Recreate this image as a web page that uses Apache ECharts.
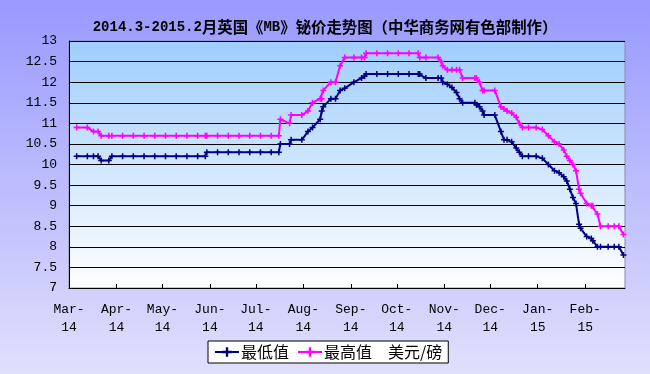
<!DOCTYPE html>
<html>
<head>
<meta charset="utf-8">
<script src="https://cdn.jsdelivr.net/npm/echarts@6/dist/echarts.min.js"></script>
<style>html,body{margin:0;padding:0;}#c{width:650px;height:374px;}</style>
</head>
<body>
<div id="c"></div>
<script>
const dates = [
  '2014-03-06','2014-03-13','2014-03-17','2014-03-20','2014-03-22','2014-03-27','2014-03-29',
  '2014-04-05','2014-04-12','2014-04-19','2014-04-26',
  '2014-05-03','2014-05-10','2014-05-17','2014-05-24','2014-05-29','2014-05-30',
  '2014-06-06','2014-06-13','2014-06-20','2014-06-27',
  '2014-07-04','2014-07-11','2014-07-16','2014-07-17','2014-07-23','2014-07-24','2014-07-31',
  '2014-08-04','2014-08-07','2014-08-12','2014-08-13','2014-08-14','2014-08-19','2014-08-22','2014-08-25','2014-08-28',
  '2014-09-03','2014-09-08','2014-09-10','2014-09-11','2014-09-18','2014-09-25',
  '2014-10-02','2014-10-09','2014-10-15','2014-10-16','2014-10-20','2014-10-28','2014-10-30','2014-10-31',
  '2014-11-03','2014-11-06','2014-11-09','2014-11-11','2014-11-13','2014-11-21','2014-11-22','2014-11-24','2014-11-26','2014-11-27',
  '2014-12-04','2014-12-08','2014-12-10','2014-12-12','2014-12-15','2014-12-18','2014-12-20','2014-12-22','2014-12-26','2014-12-31',
  '2015-01-04','2015-01-08','2015-01-12','2015-01-15','2015-01-18','2015-01-20','2015-01-22','2015-01-24','2015-01-26','2015-01-28','2015-01-29',
  '2015-02-02','2015-02-05','2015-02-06','2015-02-09','2015-02-11','2015-02-16','2015-02-20','2015-02-23','2015-02-26'
];
const lowValues = [
  10.2,10.2,10.2,10.2,10.1,10.1,10.2,
  10.2,10.2,10.2,10.2,
  10.2,10.2,10.2,10.2,10.2,10.3,
  10.3,10.3,10.3,10.3,
  10.3,10.3,10.3,10.5,10.5,10.6,10.6,
  10.8,10.9,11.1,11.3,11.4,11.6,11.6,11.8,11.85,
  12.0,12.1,12.15,12.2,12.2,12.2,
  12.2,12.2,12.2,12.2,12.1,12.1,12.1,12.0,
  11.95,11.87,11.75,11.6,11.5,11.5,11.45,11.4,11.3,11.2,
  11.2,10.8,10.6,10.6,10.55,10.4,10.3,10.2,10.2,10.2,
  10.15,10.0,9.85,9.8,9.7,9.6,9.4,9.2,9.05,8.55,8.45,
  8.25,8.2,8.15,8.0,8.0,8.0,8.0,8.0,7.8
];
const highValues = [
  10.9,10.9,10.8,10.8,10.7,10.7,10.7,
  10.7,10.7,10.7,10.7,
  10.7,10.7,10.7,10.7,10.7,10.7,
  10.7,10.7,10.7,10.7,
  10.7,10.7,10.7,11.1,11.0,11.2,11.2,
  11.3,11.5,11.6,11.6,11.8,12.0,12.0,12.4,12.6,
  12.6,12.6,12.6,12.7,12.7,12.7,
  12.7,12.7,12.7,12.6,12.6,12.6,12.5,12.4,
  12.3,12.3,12.3,12.3,12.1,12.1,12.1,12.0,11.8,11.8,
  11.8,11.4,11.35,11.3,11.25,11.15,11.0,10.9,10.9,10.9,
  10.85,10.7,10.55,10.5,10.35,10.2,10.1,10.0,9.85,9.4,9.3,
  9.05,9.0,9.0,8.8,8.5,8.5,8.5,8.5,8.3
];
const monthStarts = ['2014-03-01','2014-04-01','2014-05-01','2014-06-01','2014-07-01','2014-08-01',
  '2014-09-01','2014-10-01','2014-11-01','2014-12-01','2015-01-01','2015-02-01'];
const monthLabels = ['Mar-\n14','Apr-\n14','May-\n14','Jun-\n14','Jul-\n14','Aug-\n14',
  'Sep-\n14','Oct-\n14','Nov-\n14','Dec-\n14','Jan-\n15','Feb-\n15'];
const axisStart = '2014-03-01';
const axisEnd = '2015-02-27';
const yTicks = { min: 7, max: 13, step: 0.5 };

function dayOffset(s) {
  const p = s.split('-').map(Number);
  const q = axisStart.split('-').map(Number);
  return Math.round((Date.UTC(p[0], p[1] - 1, p[2]) - Date.UTC(q[0], q[1] - 1, q[2])) / 86400000);
}
const tickOffsets = monthStarts.map(dayOffset);
const plus = 'path://M3,0h2v3h3v2h-3v3h-2v-3h-3v-2h3z';

const chart = echarts.init(document.getElementById('c'));
chart.setOption({
  animation: false,
  backgroundColor: new echarts.graphic.LinearGradient(0, 0, 0, 1, [
    { offset: 0, color: '#9999ff' }, { offset: 1, color: '#e0e0fc' }
  ]),
  title: {
    text: '{a|2014.3-2015.2}{b|月英国《}{a|MB}{b|》铋价走势图（中华商务网有色部制作）}',
    left: 'center', top: 17, padding: 0,
    textStyle: {
      rich: {
        a: { fontFamily: 'Liberation Mono', fontSize: 14, fontWeight: 'bold', color: '#000', lineHeight: 20 },
        b: { fontFamily: 'Noto Sans CJK SC', fontSize: 15.4, fontWeight: 'bold', color: '#000', lineHeight: 20 }
      }
    }
  },
  grid: {
    left: 69, right: 25, top: 41, bottom: 86, show: true,
    borderColor: '#8a8ab0', borderWidth: 1,
    backgroundColor: new echarts.graphic.LinearGradient(0, 0, 0, 1, [
      { offset: 0, color: '#9fcdfd' }, { offset: 1, color: '#ffffff' }
    ])
  },
  legend: {
    data: ['最低值', '最高值'],
    left: 208, top: 341,
    padding: [3, 6, 3, 6],
    itemGap: 8, itemWidth: 24, itemHeight: 12,
    backgroundColor: '#ffffff', borderColor: '#000', borderWidth: 1, borderRadius: 0,
    formatter: function (n) { return n === '最高值' ? n + '　美元/磅' : n; },
    textStyle: { fontFamily: 'Noto Sans CJK SC', fontSize: 16, color: '#000', padding: [0, 0, 0, -3] }
  },
  xAxis: {
    type: 'value', min: 0, max: dayOffset(axisEnd),
    axisLine: { lineStyle: { color: '#000', width: 1 } },
    axisTick: { show: true, inside: true, length: 4, customValues: tickOffsets, lineStyle: { color: '#000' } },
    axisLabel: {
      customValues: tickOffsets, margin: 13,
      fontFamily: 'Liberation Mono', fontSize: 13, color: '#000', lineHeight: 18,
      formatter: function (v) { const i = tickOffsets.indexOf(v); return i >= 0 ? monthLabels[i] : ''; }
    },
    splitLine: { show: false }
  },
  yAxis: {
    type: 'value', min: yTicks.min, max: yTicks.max, interval: yTicks.step,
    axisLine: { show: true, lineStyle: { color: '#000', width: 1 } },
    axisTick: { show: true, inside: true, length: 4, lineStyle: { color: '#000' } },
    axisLabel: { margin: 12, fontFamily: 'Liberation Mono', fontSize: 13, color: '#000' },
    splitLine: { show: true, lineStyle: { color: '#000', width: 1 } }
  },
  series: [
    {
      name: '最低值', type: 'line', symbol: plus, symbolSize: 6, showAllSymbol: true,
      itemStyle: { color: '#000080' }, lineStyle: { color: '#000080', width: 2 },
      data: dates.map(function (d, i) { return [dayOffset(d), lowValues[i]]; })
    },
    {
      name: '最高值', type: 'line', symbol: plus, symbolSize: 6, showAllSymbol: true,
      itemStyle: { color: '#ff00ff' }, lineStyle: { color: '#ff00ff', width: 2 },
      data: dates.map(function (d, i) { return [dayOffset(d), highValues[i]]; })
    }
  ]
});
</script>
</body>
</html>
